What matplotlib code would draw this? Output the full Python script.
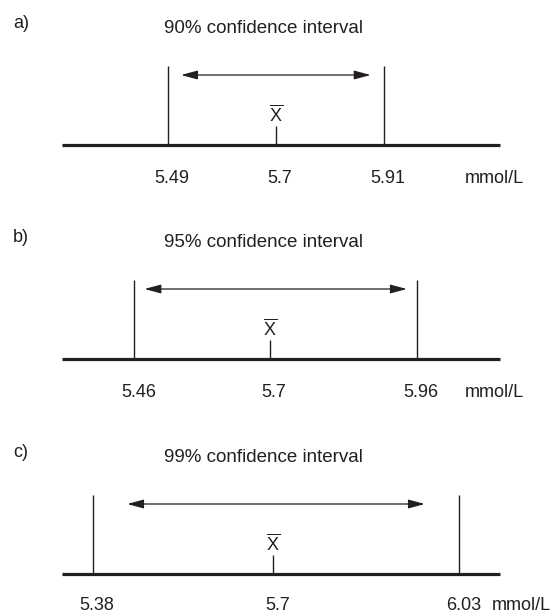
import numpy as np
import matplotlib
matplotlib.use('Agg')
import matplotlib.pyplot as plt

plt.rcParams['font.family'] = ['Liberation Sans', 'DejaVu Sans']
plt.rcParams['mathtext.fontset'] = 'custom'
plt.rcParams['mathtext.rm'] = 'Liberation Sans'

# data
panel_tags = ['a)', 'b)', 'c)']
levels = ['90%', '95%', '99%']
mean = 5.7
lower = [5.49, 5.46, 5.38]
upper = [5.91, 5.96, 6.03]
unit = 'mmol/L'

# layout (page pixels)
W, H = 554, 614
base_y = [145, 359, 574]          # baseline of each panel
lo_px = [167.7, 134.3, 92.7]      # where the lower bound sits
hi_px = [384.0, 417.0, 459.3]     # where the upper bound sits
arrow_inset = [0.062, 0.036, 0.094]
unit_px = [465, 465, 492]
label_y = [-38, -38, -36]
ink = '#231f20'
fs = 13

fig = plt.figure(figsize=(W / 100, H / 100), dpi=100)
fig.patch.set_facecolor('white')

for i in range(3):
    lo, hi = lower[i], upper[i]
    yb = base_y[i]
    ax = fig.add_axes([0, 1 - (yb + 60) / H, 1, 215 / H])
    ax.axis('off')
    s = (hi_px[i] - lo_px[i]) / (hi - lo)
    ax.set_xlim(lo - lo_px[i] / s, lo + (W - lo_px[i]) / s)
    ax.set_ylim(-60, 155)
    tr = ax.get_yaxis_transform()   # x in axes fraction, y in data

    # number line
    ax.axhline(0, xmin=62 / W, xmax=500 / W, lw=2.3, color=ink, solid_capstyle='butt')
    ax.vlines([lo, hi], 0, 79, lw=1.0, color=ink)
    ax.vlines(mean, 0, 19, lw=1.0, color=ink)

    # interval arrow
    d = arrow_inset[i] * (hi - lo)
    ax.annotate('', xy=(hi - d, 70), xytext=(lo + d, 70),
                arrowprops=dict(arrowstyle='<|-|>,head_length=1.0,head_width=0.27',
                                mutation_scale=10, lw=0.9, color=ink,
                                shrinkA=0, shrinkB=0))

    ax.text(mean, 24, r'$\overline{\mathrm{X}}$', ha='center', va='baseline',
            fontsize=fs, color=ink)

    # labels under the line
    for v in (lo, mean, hi):
        ax.annotate(f'{v:g}', (v, label_y[i]), xytext=(3, 0), textcoords='offset points',
                    ha='center', va='baseline', fontsize=fs, color=ink)
    ax.text(unit_px[i] / W, label_y[i], unit, transform=tr,
            ha='left', va='baseline', fontsize=fs, color=ink)

    # headings
    ax.text(263 / W, 112, f'{levels[i]} confidence interval', transform=tr,
            ha='center', va='baseline', fontsize=13.5, color=ink)
    ax.text(13 / W, 117, panel_tags[i], transform=tr,
            ha='left', va='baseline', fontsize=fs, color=ink)

fig.savefig('out.png', dpi=100, facecolor='white')
